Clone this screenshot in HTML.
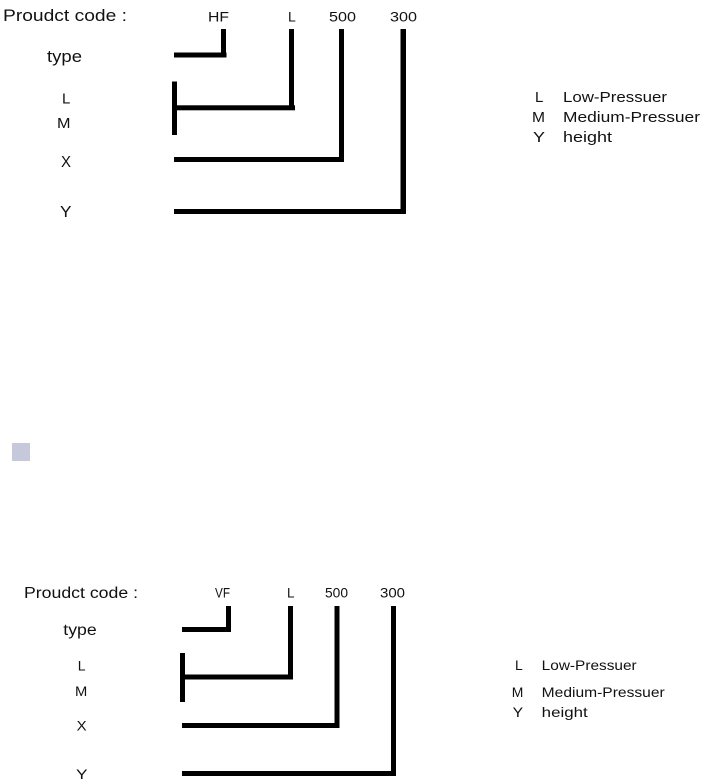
<!DOCTYPE html>
<html>
<head>
<meta charset="utf-8">
<style>
  html,body{margin:0;padding:0;background:#fff;}
  svg{display:block;}
  text{font-family:"Liberation Sans",sans-serif;fill:#111;}
</style>
</head>
<body>
<svg width="710" height="781" viewBox="0 0 710 781" xmlns="http://www.w3.org/2000/svg">
  <rect x="0" y="0" width="710" height="781" fill="#fff"/>

  <!-- ===== TOP DIAGRAM ===== -->
  <text x="3" y="21" font-size="16.5" textLength="124" lengthAdjust="spacingAndGlyphs">Proudct code :</text>
  <text x="208" y="21.7" font-size="14" textLength="21" lengthAdjust="spacingAndGlyphs">HF</text>
  <text x="288" y="21.7" font-size="14">L</text>
  <text x="329" y="21.7" font-size="14" textLength="27" lengthAdjust="spacingAndGlyphs">500</text>
  <text x="390" y="21.7" font-size="14" textLength="27" lengthAdjust="spacingAndGlyphs">300</text>

  <text x="47" y="62" font-size="16.5" textLength="35" lengthAdjust="spacingAndGlyphs">type</text>
  <text x="62" y="103.3" font-size="15">L</text>
  <text x="57" y="128" font-size="15" textLength="13.5" lengthAdjust="spacingAndGlyphs">M</text>
  <text x="61" y="167" font-size="15.5" textLength="10" lengthAdjust="spacingAndGlyphs">X</text>
  <text x="60" y="217" font-size="15.5" textLength="11.5" lengthAdjust="spacingAndGlyphs">Y</text>

  <g fill="#000">
    <rect x="221" y="29" width="5" height="28.5"/>
    <rect x="174" y="52.5" width="52.5" height="5"/>
    <rect x="289" y="29" width="5" height="81"/>
    <rect x="172" y="81.5" width="5" height="53.5"/>
    <rect x="172" y="105.3" width="123" height="5"/>
    <rect x="339" y="29" width="5" height="133"/>
    <rect x="174" y="157" width="170" height="5"/>
    <rect x="400.5" y="29" width="5.5" height="185"/>
    <rect x="174" y="209" width="232" height="5"/>
  </g>

  <text x="535" y="102" font-size="15">L</text>
  <text x="563" y="102" font-size="15" textLength="104" lengthAdjust="spacingAndGlyphs">Low-Pressuer</text>
  <text x="532" y="122" font-size="15" textLength="13" lengthAdjust="spacingAndGlyphs">M</text>
  <text x="563" y="122" font-size="15" textLength="137" lengthAdjust="spacingAndGlyphs">Medium-Pressuer</text>
  <text x="533" y="142" font-size="15" textLength="12" lengthAdjust="spacingAndGlyphs">Y</text>
  <text x="563" y="142" font-size="15" textLength="49" lengthAdjust="spacingAndGlyphs">height</text>

  <!-- small square -->
  <rect x="12" y="443" width="18" height="18" fill="#c6c8dc"/>

  <!-- ===== BOTTOM DIAGRAM ===== -->
  <text x="24" y="598" font-size="15.5" textLength="114" lengthAdjust="spacingAndGlyphs">Proudct code :</text>
  <text x="215" y="597.7" font-size="13.5" textLength="15" lengthAdjust="spacingAndGlyphs">VF</text>
  <text x="287" y="597.7" font-size="13.5">L</text>
  <text x="325" y="597.7" font-size="13.5" textLength="23" lengthAdjust="spacingAndGlyphs">500</text>
  <text x="380" y="597.7" font-size="13.5" textLength="25" lengthAdjust="spacingAndGlyphs">300</text>

  <text x="63.3" y="635" font-size="15.5" textLength="33.4" lengthAdjust="spacingAndGlyphs">type</text>
  <text x="77.7" y="670.7" font-size="14">L</text>
  <text x="75" y="696" font-size="14" textLength="12.3" lengthAdjust="spacingAndGlyphs">M</text>
  <text x="76.7" y="730.7" font-size="14" textLength="10" lengthAdjust="spacingAndGlyphs">X</text>
  <text x="76" y="779" font-size="14" textLength="11.5" lengthAdjust="spacingAndGlyphs">Y</text>

  <g fill="#000">
    <rect x="226" y="606" width="5" height="26"/>
    <rect x="182" y="627" width="49" height="5"/>
    <rect x="288" y="606" width="5" height="73.5"/>
    <rect x="180" y="653" width="5" height="49"/>
    <rect x="180" y="674.5" width="113" height="5"/>
    <rect x="334.5" y="606" width="5" height="122"/>
    <rect x="182" y="723" width="157.5" height="5"/>
    <rect x="391" y="606" width="5" height="170"/>
    <rect x="182" y="771" width="214" height="5"/>
  </g>

  <text x="515" y="670" font-size="14">L</text>
  <text x="541.7" y="670" font-size="14" textLength="95" lengthAdjust="spacingAndGlyphs">Low-Pressuer</text>
  <text x="511.7" y="697" font-size="14" textLength="11.6" lengthAdjust="spacingAndGlyphs">M</text>
  <text x="541.7" y="697" font-size="14" textLength="123" lengthAdjust="spacingAndGlyphs">Medium-Pressuer</text>
  <text x="512.7" y="717" font-size="14" textLength="10.5" lengthAdjust="spacingAndGlyphs">Y</text>
  <text x="541.7" y="717" font-size="14" textLength="46" lengthAdjust="spacingAndGlyphs">height</text>
</svg>
</body>
</html>
